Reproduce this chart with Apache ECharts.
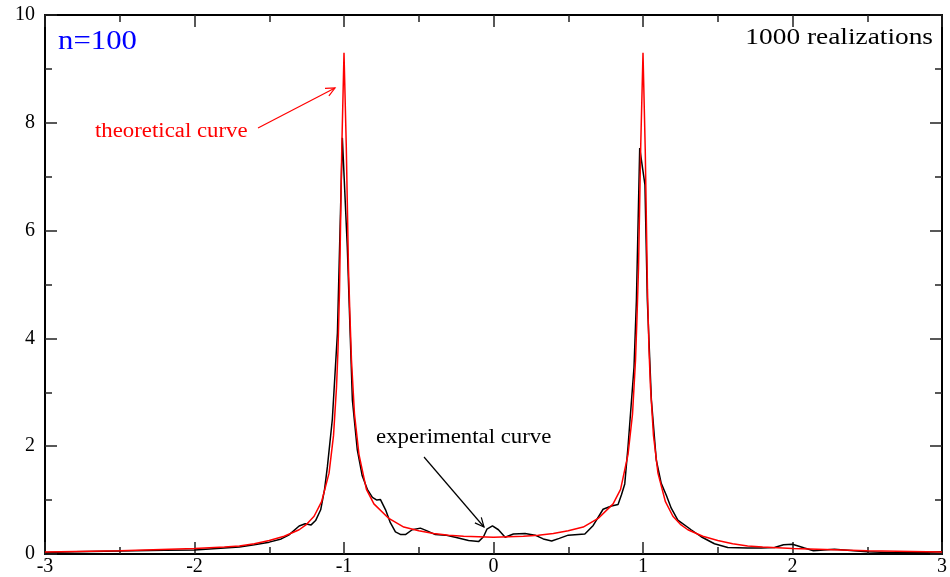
<!DOCTYPE html>
<html>
<head>
<meta charset="utf-8">
<script src="https://cdn.jsdelivr.net/npm/echarts@6/dist/echarts.min.js"></script>
<style>
  html, body { margin: 0; padding: 0; background: #fff; }
  #chart { width: 950px; height: 577px; }
</style>
</head>
<body>
<div id="chart"></div>
<script>
// theoretical curve (red)
var theoX = [-3, -2.5, -2, -1.8, -1.7, -1.6, -1.5, -1.4, -1.3, -1.25, -1.2, -1.15, -1.1, -1.07, -1.05, -1.04, -1.03, -1.015,
    -1, -0.985, -0.97, -0.96, -0.95, -0.93, -0.9, -0.85, -0.8, -0.7, -0.6, -0.5, -0.4, -0.3, -0.2, -0.1,
    0, 0.1, 0.2, 0.3, 0.4, 0.5, 0.6, 0.7, 0.8, 0.85, 0.9, 0.93, 0.95, 0.96, 0.97, 0.985,
    1, 1.015, 1.03, 1.04, 1.05, 1.07, 1.1, 1.15, 1.2, 1.25, 1.3, 1.4, 1.5, 1.6, 1.7, 1.8, 2, 2.5, 3];
var theoY = [0.035, 0.06, 0.1, 0.13, 0.15, 0.19, 0.25, 0.33, 0.45, 0.55, 0.7, 0.97, 1.5, 2.2, 3.1, 3.8, 4.9, 7.5,
    9.3, 7.6, 5.3, 4.4, 3.6, 2.6, 1.85, 1.2, 0.93, 0.66, 0.5, 0.43, 0.38, 0.35, 0.33, 0.32,
    0.31, 0.32, 0.33, 0.35, 0.38, 0.43, 0.5, 0.66, 0.93, 1.2, 1.85, 2.6, 3.6, 4.4, 5.3, 7.6,
    9.3, 7.5, 4.9, 3.8, 3.1, 2.2, 1.5, 0.97, 0.7, 0.55, 0.45, 0.33, 0.25, 0.19, 0.15, 0.13, 0.1, 0.06, 0.035];

// experimental curve (black), 1000 realizations
var expX = [-3, -2.8, -2.6, -2.4, -2.2, -2, -1.85, -1.7, -1.6, -1.5, -1.42, -1.37, -1.3, -1.26, -1.22, -1.19, -1.156, -1.13,
    -1.111, -1.078, -1.044, -1.011, -0.978, -0.944, -0.911, -0.878, -0.844, -0.81, -0.78, -0.756, -0.722, -0.69,
    -0.656, -0.62, -0.589, -0.544, -0.489, -0.444, -0.389, -0.322, -0.256, -0.167, -0.1, -0.067, -0.044, -0.007,
    0.033, 0.078, 0.133, 0.211, 0.278, 0.333, 0.389, 0.44, 0.5, 0.611, 0.667, 0.733, 0.789, 0.833, 0.856, 0.878,
    0.9, 0.94, 0.956, 0.978, 1.013, 1.029, 1.056, 1.089, 1.122, 1.156, 1.189, 1.233, 1.322, 1.389, 1.478, 1.567,
    1.7, 1.79, 1.88, 1.94, 2, 2.08, 2.14, 2.28, 2.41, 2.5, 2.68, 2.85, 3];
var expY = [0.03, 0.04, 0.05, 0.06, 0.07, 0.075, 0.1, 0.13, 0.17, 0.22, 0.28, 0.35, 0.52, 0.56, 0.54, 0.62, 0.82, 1.2,
    1.62, 2.5, 4.1, 7.72, 5.7, 2.86, 1.93, 1.45, 1.2, 1.05, 1.0, 1.01, 0.82, 0.58,
    0.41, 0.36, 0.36, 0.45, 0.48, 0.43, 0.36, 0.35, 0.31, 0.25, 0.23, 0.32, 0.46, 0.52,
    0.45, 0.31, 0.37, 0.38, 0.35, 0.28, 0.24, 0.29, 0.35, 0.37, 0.53, 0.83, 0.89, 0.92, 1.1, 1.3,
    2.0, 3.47, 4.71, 7.53, 6.85, 4.71, 2.86, 1.74, 1.31, 1.09, 0.85, 0.63, 0.45, 0.32, 0.19, 0.12,
    0.11, 0.11, 0.12, 0.17, 0.18, 0.11, 0.06, 0.09, 0.06, 0.04, 0.025, 0.03, 0.04];

function pairs(xs, ys) {
    return xs.map(function (x, i) { return [x, ys[i]]; });
}

var serif = '"Liberation Serif", "DejaVu Serif", serif';

var tickX = {
    type: 'value', min: -3, max: 3, interval: 1,
    axisLine: { show: true, onZero: false, lineStyle: { color: '#000', width: 2 } },
    axisTick: { show: true, inside: true, length: 12, lineStyle: { color: '#222', width: 1.5 } },
    minorTick: { show: true, splitNumber: 2, length: 7, lineStyle: { color: '#222', width: 1.5 } },
    splitLine: { show: false }
};
var tickY = {
    type: 'value', min: 0, max: 10, interval: 2,
    axisLine: { show: true, onZero: false, lineStyle: { color: '#000', width: 2 } },
    axisTick: { show: true, inside: true, length: 12, lineStyle: { color: '#222', width: 1.5 } },
    minorTick: { show: true, splitNumber: 2, length: 7, lineStyle: { color: '#222', width: 1.5 } },
    splitLine: { show: false }
};

var chart = echarts.init(document.getElementById('chart'));
chart.setOption({
    backgroundColor: '#fff',
    animation: false,
    grid: { left: 45, right: 5, top: 15, bottom: 23 },
    xAxis: [
        Object.assign({}, tickX, {
            position: 'bottom',
            axisLabel: { color: '#000', fontFamily: serif, fontSize: 20, margin: 3 }
        }),
        Object.assign({}, tickX, { position: 'top', axisLabel: { show: false } })
    ],
    yAxis: [
        Object.assign({}, tickY, {
            position: 'left',
            axisLabel: { color: '#000', fontFamily: serif, fontSize: 20, margin: 10 }
        }),
        Object.assign({}, tickY, { position: 'right', axisLabel: { show: false } })
    ],
    series: [
        {
            name: 'experimental', type: 'line', data: pairs(expX, expY),
            showSymbol: false, symbol: 'none',
            lineStyle: { color: '#000', width: 1.5 }
        },
        {
            name: 'theoretical', type: 'line', data: pairs(theoX, theoY),
            showSymbol: false, symbol: 'none',
            lineStyle: { color: '#ff0000', width: 1.5 }
        }
    ],
    graphic: [
        { type: 'text', x: 58, y: 42, scaleX: 1.14,
          style: { text: 'n=100', fill: '#0000ff', font: '27px ' + serif, textVerticalAlign: 'middle' } },
        { type: 'text', x: 933, y: 38, scaleX: 1.14,
          style: { text: '1000 realizations', fill: '#000', font: '24px ' + serif, textAlign: 'right', textVerticalAlign: 'middle' } },
        { type: 'text', x: 95, y: 132, scaleX: 1.14,
          style: { text: 'theoretical curve', fill: '#ff0000', font: '20px ' + serif, textVerticalAlign: 'middle' } },
        { type: 'text', x: 376, y: 438, scaleX: 1.14,
          style: { text: 'experimental curve', fill: '#000', font: '20px ' + serif, textVerticalAlign: 'middle' } },
        { type: 'polyline', shape: { points: [[258, 128], [335, 88]] }, style: { stroke: '#ff0000', lineWidth: 1.2, fill: null } },
        { type: 'polyline', shape: { points: [[325, 88.4], [335, 88], [328.9, 95.9]] }, style: { stroke: '#ff0000', lineWidth: 1.2, fill: null } },
        { type: 'polyline', shape: { points: [[424, 457], [484, 527]] }, style: { stroke: '#000', lineWidth: 1.2, fill: null } },
        { type: 'polyline', shape: { points: [[481.3, 517.4], [484, 527], [474.9, 522.9]] }, style: { stroke: '#000', lineWidth: 1.2, fill: null } }
    ]
});
</script>
</body>
</html>
